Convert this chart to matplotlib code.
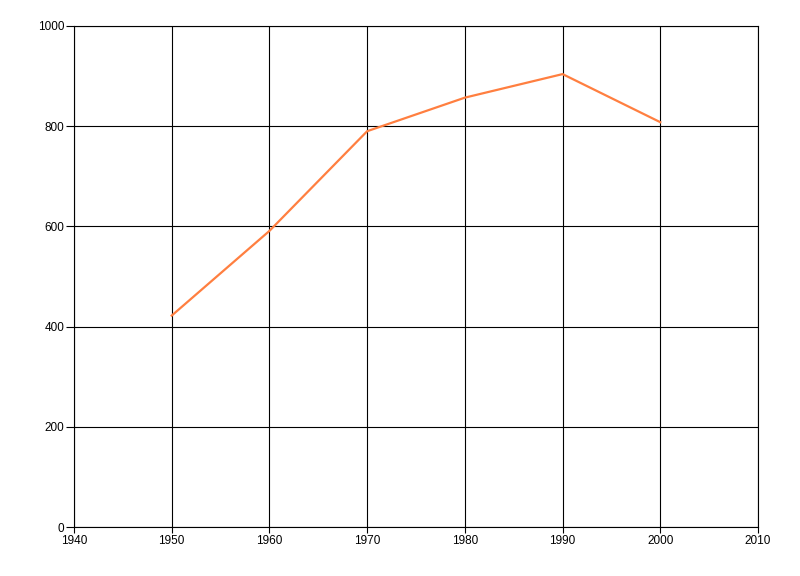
import matplotlib
matplotlib.use("Agg")
import matplotlib.pyplot as plt

years = [1950, 1960, 1970, 1980, 1990, 2000]
values = [422, 591, 790, 857, 904, 808]
x_ticks = [1940, 1950, 1960, 1970, 1980, 1990, 2000, 2010]
y_ticks = [0, 200, 400, 600, 800, 1000]

plt.rcParams['font.family'] = ['Liberation Sans', 'DejaVu Sans']

fig = plt.figure(figsize=(8, 5.76), dpi=100)
ax = fig.add_axes([74/800, 1-527/576, (758-74)/800, (527-26)/576])
ax.plot(years, values, color="#FF7F40", linewidth=1.6, zorder=3)
ax.set_xlim(1940, 2010)
ax.set_ylim(0, 1000)
ax.set_xticks(x_ticks)
ax.set_yticks(y_ticks)
ax.grid(True, color="black", linewidth=0.8)
for s in ax.spines.values():
    s.set_color("black")
    s.set_linewidth(0.8)
ax.tick_params(axis="y", length=6, width=0.8, labelsize=8.5, pad=1)
ax.tick_params(axis="x", length=4, width=0.8, labelsize=8.5, pad=2)
fig.savefig("out.png", dpi=100)
